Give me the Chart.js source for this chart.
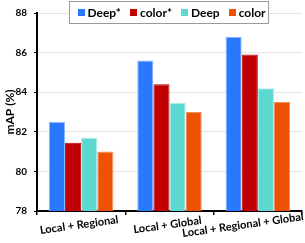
<!DOCTYPE html>
<html><head><meta charset="utf-8">
<script src="https://cdn.jsdelivr.net/npm/chart.js@4"></script>
<style>html,body{margin:0;padding:0;background:#fff}#wrap{width:305px;height:243px}</style>
</head><body><div id="wrap"><canvas id="c" width="305" height="243"></canvas></div>
<script>
const categories = ['Local + Regional', 'Local + Global', 'Local + Regional + Global'];
const seriesNames = ['Deep*', 'color*', 'Deep', 'color'];
const deepStar = [82.5, 85.6, 86.8];
const colorStar = [81.45, 84.4, 85.9];
const deep = [81.7, 83.45, 84.2];
const colorOnly = [81.0, 83.0, 83.5];
const yTicks = [78, 80, 82, 84, 86, 88];
const yTitle = 'mAP (%)';

const colors = ['#2A78FF', '#C00000', '#5BD8D0', '#EE5200'];
const edgeColors = ['#8DB8FF', '#C00000', '#A6EDE8', '#F49060'];
const FONT = 'Lato, "Liberation Sans", sans-serif';

const xLabelPlugin = {
  id: 'xLabels',
  afterDraw(chart) {
    const ctx = chart.ctx, xs = chart.scales.x, ca = chart.chartArea;
    const ang = 8 * Math.PI / 180;
    ctx.save();
    ctx.font = 'bold 11px ' + FONT;
    ctx.fillStyle = '#000';
    ctx.textAlign = 'center';
    ctx.textBaseline = 'middle';
    categories.forEach((lab, i) => {
      const w = ctx.measureText(lab).width;
      let cx = xs.getPixelForTick(i) - 2;
      const half = w / 2 * Math.cos(ang);
      if (cx + half > chart.width - 1.5) cx = chart.width - 1.5 - half;
      const cy = ca.bottom + 14;
      ctx.save();
      ctx.translate(cx, cy);
      ctx.rotate(-ang);
      ctx.fillText(lab, 0, 0);
      ctx.restore();
    });
    ctx.restore();
  }
};

const legendPlugin = {
  id: 'boxLegend',
  afterDraw(chart) {
    const ctx = chart.ctx, ca = chart.chartArea;
    ctx.save();
    ctx.font = 'bold 12px ' + FONT;
    const sq = 7, gapIn = 3, gapOut = 9, padL = 8, padR = 3;
    const widths = seriesNames.map(s => ctx.measureText(s).width);
    let total = padL + padR;
    widths.forEach((w, i) => { total += sq + gapIn + w + (i < widths.length - 1 ? gapOut : 0); });
    const cx = (ca.left + ca.right) / 2 - 1;
    const left = Math.round(cx - total / 2) + 0.5;
    const top = 1.5, h = 22;
    ctx.fillStyle = '#fff';
    ctx.fillRect(left, top, total, h);
    ctx.strokeStyle = '#9a9a9a';
    ctx.lineWidth = 1;
    ctx.strokeRect(left, top, total, h);
    let x = left + padL;
    const my = top + h / 2;
    ctx.textBaseline = 'middle';
    ctx.textAlign = 'left';
    seriesNames.forEach((s, i) => {
      ctx.fillStyle = colors[i];
      ctx.fillRect(Math.round(x), Math.round(my - sq / 2), sq, sq);
      x += sq + gapIn;
      ctx.fillStyle = '#000';
      ctx.fillText(s, x, my + 0.5);
      x += widths[i] + gapOut;
    });
    ctx.restore();
  }
};

const seriesData = [deepStar, colorStar, deep, colorOnly];

new Chart(document.getElementById('c'), {
  type: 'bar',
  data: {
    labels: categories,
    datasets: seriesNames.map((n, i) => ({
      label: n,
      data: seriesData[i],
      backgroundColor: colors[i],
      borderColor: edgeColors[i],
      borderWidth: { top: 1, left: 1, right: 1, bottom: 0 },
      borderSkipped: 'bottom',
      categoryPercentage: 0.73,
      barPercentage: 1.0
    }))
  },
  options: {
    responsive: false,
    animation: false,
    devicePixelRatio: 1,
    layout: { padding: { top: 7, right: 3, left: 0, bottom: 0 } },
    plugins: { legend: { display: false }, tooltip: { enabled: false } },
    scales: {
      x: {
        grid: { display: true, drawOnChartArea: false, drawTicks: true, tickLength: 4, color: '#000', tickColor: '#000', lineWidth: 1.5, offset: true },
        border: { display: true, color: '#000', width: 2 },
        ticks: { display: false },
        afterFit(s) { s.height = 32; }
      },
      y: {
        min: 78, max: 88,
        afterBuildTicks(s) { s.ticks = yTicks.map(v => ({ value: v })); },
        grid: { color: '#e4e4e4', lineWidth: 1, drawTicks: true, tickLength: 3, tickColor: '#000' },
        border: { display: true, color: '#000', width: 2 },
        ticks: { color: '#000', padding: 7, font: { family: FONT, weight: 'bold', size: 10 } },
        title: { display: true, text: yTitle, color: '#000', padding: { top: 3, bottom: 0 }, font: { family: FONT, weight: 'bold', size: 12 } },
        afterFit(s) { s.width = 37; }
      }
    }
  },
  plugins: [xLabelPlugin, legendPlugin]
});
</script>
</body></html>
